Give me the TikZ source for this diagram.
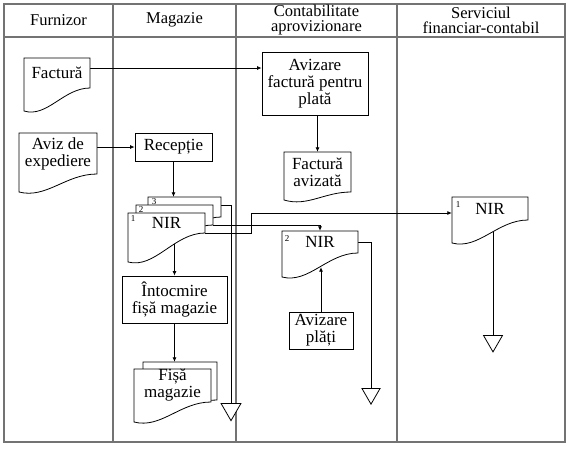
\documentclass[tikz,border=0pt]{standalone}
\usepackage{fontspec}
\setmainfont{Liberation Serif}
\usetikzlibrary{arrows.meta,calc,shapes.geometric,backgrounds}
\newcommand{\dgbody}{\fontsize{17}{17}\selectfont}
\newcommand{\dghead}{\fontsize{16.5}{15}\selectfont}
\newcommand{\docsh}[7]{%
 \pgfmathsetmacro{\dgw}{#4-#2}%
 \pgfmathsetmacro{\dgcx}{(#2+#4)/2}%
 \pgfmathsetmacro{\dgcy}{(#3+#5)/2}%
 \pgfmathsetmacro{\dgh}{#5-#3}%
 \pgfmathsetmacro{\dgca}{0.35*\dgw}%
 \pgfmathsetmacro{\dgcb}{-0.4*\dgw}%
 \filldraw[docline] (#4,#5) -- (#4,#3) -- (#2,#3) -- (#2,#6) .. controls +(\dgca,7) and +(\dgcb,0) .. (#4,#5) -- cycle;
 \node[doctext, minimum width=\dgw pt, minimum height=\dgh pt] (#1) at (\dgcx,\dgcy) {#7};
}
\tikzset{
 docline/.style={draw=black, fill=white, line width=0.8pt},
 doctext/.style={inner sep=0pt, align=center, font=\dgbody},
 box/.style={draw, fill=white, line width=0.8pt, align=center, font=\dgbody, inner sep=0pt},
 conn/.style={line width=0.8pt},
 arr/.style={conn, -{Latex[length=4.5pt,width=4pt]}},
 archive/.style={draw, fill=white, regular polygon, regular polygon sides=3, shape border rotate=180, inner sep=0pt, line width=0.8pt, anchor=north},
 gridline/.style={draw=black!55, line width=1.3pt},
 hdr/.style={align=center, font=\dghead, inner sep=0pt},
 num/.style={font=\fontsize{9}{9}\selectfont, inner sep=0pt},
}
\begin{document}
\begin{tikzpicture}[x=1pt,y=-1pt]
\useasboundingbox (0,0) rectangle (582,448);
% headers
\node[hdr] (h1) at (58.5,20) {Furnizor};
\node[hdr] (h2) at (174.5,20) {Magazie};
\node[hdr] (h3) at (316.5,20.5) {Contabilitate\\aprovizionare};
\node[hdr] (h4) at (481,20.5) {Serviciul\\financiar-contabil};
% Furnizor
\docsh{fact}{24}{58}{90}{88}{111}{Factură}
\docsh{aviz}{19}{133}{97}{174}{192}{Aviz de\\expediere}
% Magazie
\node[box, minimum width=77pt, minimum height=28pt] (rec) at (173.5,147) {Recepție};
\docsh{s3}{148}{197}{221}{217}{244}{}
\node[num] (n3) at (154,201.5) {3};
\docsh{s2}{136}{205}{213}{225}{253}{}
\node[num] (n2) at (141,209.5) {2};
\docsh{s1}{128}{213}{205}{233}{262}{NIR}
\node[num] (n1) at (133,219) {1};
\node[box, minimum width=105pt, minimum height=47pt] (int) at (174.5,299.5) {Întocmire\\fișă magazie};
\docsh{f2}{143}{362}{217}{400}{414}{}
\docsh{f1}{134}{369}{211}{402}{422}{Fișă\\magazie}
\node[archive, minimum size=23pt] (ar1) at (231,403) {};
% Contabilitate
\node[box, minimum width=106pt, minimum height=63pt] (avf) at (315,83.5) {Avizare\\factură pentru\\plată};
\docsh{fav}{284}{152}{351}{192}{200}{Factură\\avizată}
\docsh{nir2}{282}{231}{358}{253}{277}{NIR}
\node[num] (m2) at (287,239) {2};
\node[box, minimum width=64pt, minimum height=37pt] (ap) at (321,330.5) {Avizare\\plăți};
\node[archive, minimum size=21pt] (ar2) at (371,388) {};
% Serviciul
\docsh{nir1}{452}{197}{528}{220}{243}{NIR}
\node[num] (k1) at (458,205) {1};
\node[archive, minimum size=22pt] (ar3) at (493,335) {};
\begin{pgfonlayer}{background}
 \draw[gridline] (4,4) rectangle (565,442);
 \draw[gridline] (4,37) -- (565,37);
 \draw[gridline] (113,4) -- (113,442);
 \draw[gridline] (236,4) -- (236,442);
 \draw[gridline] (397,4) -- (397,442);
 \coordinate (fa) at ($(fact.east)+(0,-5)$);
 \draw[arr] (fa) -- (fa -| avf.west);
 \draw[arr] (avf.south -| fav.north) -- (fav.north);
 \draw[arr] (aviz.east |- rec.west) -- (rec.west);
 \draw[arr] (rec.south) -- (rec.south |- s3.north);
 \coordinate (s3o) at ($(s3.east)+(0,-2)$);
 \draw[conn] (s3o) -| (ar1.north);
 \draw[arr] (s2.south east) -| (nir2.north);
 \coordinate (n1in) at ($(nir1.west)+(0,4.5)$);
 \draw[arr] (s1.south east) -- ++(46,0) |- (n1in);
 \draw[arr] (s1.south -| int.north) -- (int.north);
 \draw[arr] (int.south) -- (int.south |- f2.north);
 \draw[conn] (nir2.east) -| (ar2.north);
 \draw[arr] (ap.north) -- ($(ap.north |- nir2.south)+(0,14)$);
 \draw[conn] (nir1.south -| ar3.north) -- (ar3.north);
\end{pgfonlayer}
\end{tikzpicture}
\end{document}
